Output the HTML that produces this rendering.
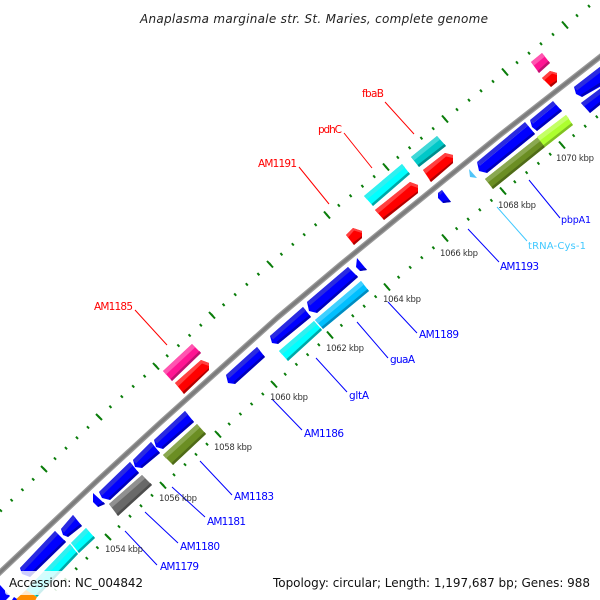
<!DOCTYPE html>
<html><head><meta charset="utf-8"><style>
html,body{margin:0;padding:0;background:#fff}
svg{display:block}
text{font-family:"DejaVu Sans",sans-serif}
.k{font-size:8.5px;fill:#333}
.r{font-size:10.5px;fill:#f00}
.b{font-size:10.5px;fill:#00f}
.rl{stroke:#f00;stroke-width:1;fill:none}
.bl{stroke:#00f;stroke-width:1;fill:none}
.m{stroke:#0a7d0a;stroke-width:3;stroke-dasharray:.13 .87;stroke-dashoffset:.065;fill:none}
.M{stroke:#0a7d0a;stroke-width:2;fill:none}
</style></head><body>
<svg width="600" height="600" viewBox="0 0 600 600" xmlns="http://www.w3.org/2000/svg">
<rect width="600" height="600" fill="#fff"/>

<!-- backbone -->
<path d="M-5 577L98 480L160 423L277 318L340 265L400 216L500 135L605 53" fill="none" stroke="#999" stroke-width="5.500" stroke-linejoin="round"/>
<path d="M-5 577L98 480L160 423L277 318L340 265L400 216L500 135L605 53" fill="none" stroke="#7c7c7c" stroke-width="3" stroke-linejoin="round"/>

<!-- upper ticks -->
<g>
<line class="m" pathLength="5" x1="-10" y1="521" x2="44" y2="469"/>
<line class="m" pathLength="5" x1="44" y1="469" x2="99" y2="417"/>
<line class="m" pathLength="5" x1="99" y1="417" x2="156" y2="366"/>
<line class="m" pathLength="5" x1="156" y1="366" x2="212" y2="315"/>
<line class="m" pathLength="5" x1="212" y1="315" x2="270" y2="264"/>
<line class="m" pathLength="5" x1="270" y1="264" x2="327" y2="215"/>
<line class="m" pathLength="5" x1="327" y1="215" x2="386" y2="167"/>
<line class="m" pathLength="5" x1="386" y1="167" x2="445" y2="119"/>
<line class="m" pathLength="5" x1="445" y1="119" x2="505" y2="72"/>
<line class="m" pathLength="5" x1="505" y1="72" x2="565" y2="25"/>
<line class="m" pathLength="5" x1="565" y1="25" x2="625" y2="-22"/>
<path class="M" d="M41 466L47 472M96 414L102 420M153 363L159 369.500M209 312L215 318.500M267 261L273 267.500M324 211.500L330 218.500M383 163.500L389 170.500M442 115.500L448 122.500M502 68.500L508 75.500M562 21.500L568 28.500"/>
</g>
<!-- lower ticks -->
<g>
<line class="m" pathLength="5" x1="55" y1="590" x2="108" y2="537"/>
<line class="m" pathLength="5" x1="108" y1="537" x2="163" y2="485"/>
<line class="m" pathLength="5" x1="163" y1="485" x2="218" y2="434"/>
<line class="m" pathLength="5" x1="218" y1="434" x2="274" y2="384"/>
<line class="m" pathLength="5" x1="274" y1="384" x2="330" y2="335"/>
<line class="m" pathLength="5" x1="330" y1="335" x2="387" y2="287"/>
<line class="m" pathLength="5" x1="387" y1="287" x2="445" y2="238"/>
<line class="m" pathLength="5" x1="445" y1="238" x2="503" y2="191"/>
<line class="m" pathLength="5" x1="503" y1="191" x2="562" y2="145"/>
<line class="m" pathLength="5" x1="562" y1="145" x2="620" y2="98"/>
<path class="M" d="M105 534L111 540M160 482L166 488.500M215 431L221 437.500M271 381L277 387.500M327 331.500L333 338.500M384 283.500L390 290.500M442 234.500L448 241.500M500 187.500L506 194.500M559 141.500L565 148.500"/>
</g>

<!-- genes -->
<polygon points="531,62 542,53 550,63 539,73" fill="#ff1493"/>
<polygon points="531,62 542,53 545,56.500 534,65.500" fill="#ff55b0"/>
<polygon points="539,73 550,63 548.500,61 537.500,71" fill="#c01070"/>

<polygon points="542,78 550,71 557,73 557,82 551,87" fill="#f00"/>
<polygon points="542,78 550,71 557,73 557,75 552,73.500 544,80.500" fill="#ff4040"/>
<polygon points="551,87 557,82 557,80 549.500,85" fill="#b00000"/>

<polygon points="574,87 605,63 612,80 582,97 576,94" fill="#00f"/>
<polygon points="574,87 605,63 608,66.500 577,90.500" fill="#2a2ae0"/>
<polygon points="582,97 612,78 610.500,76 580.500,95" fill="#0000b8"/>
<polygon points="581,103 605,85 612,95 590,113" fill="#00f"/>
<polygon points="581,103 605,85 608,88.500 584,106.500" fill="#2a2ae0"/>
<polygon points="590,113 612,95 610.500,93 588.500,111" fill="#0000b8"/>

<polygon points="477,162 525,122 528,125.500 480,165.500" fill="#2a2ae0"/>
<polygon points="480,165.500 528,125.500 535,134 487,173 479,171 477,162" fill="#00f"/>
<polygon points="487,173 535,134 533.500,132 485.500,171" fill="#0000b8"/>
<polygon points="530,120 553,101 556,104.500 533,123.500" fill="#2a2ae0"/>
<polygon points="533,123.500 556,104.500 562,111 537,131 532,127 530,120" fill="#00f"/>
<polygon points="537,131 562,111 560.500,109 535.500,129" fill="#0000b8"/>

<polygon points="485,179 538,137 545,147 493,189" fill="#6b8e23"/>
<polygon points="485,179 538,137 541,140.500 488,182.500" fill="#8aa850"/>
<polygon points="493,189 545,147 543.500,145 491.500,187" fill="#4f6b18"/>
<polygon points="537,137 566,115 573,125 545,147" fill="#adff2f"/>
<polygon points="537,137 566,115 569,118.500 540,140.500" fill="#c4ff66"/>
<polygon points="545,147 573,125 571.500,123 543.500,145" fill="#80c022"/>

<polygon points="469,169 477,178 470,177" fill="#50c4f8"/>

<polygon points="442,190 451,202 443,203 438,198 438,193" fill="#00f"/>
<polygon points="438,193 442,190 443,192 440,195" fill="#2a2ae0"/>
<polygon points="443,203 451,202 449.500,200 443,201" fill="#0000b8"/>

<polygon points="411,157 437,136 446,146 419,167" fill="#00c8c8"/>
<polygon points="411,157 437,136 440,139.500 414,160.500" fill="#40d8d8"/>
<polygon points="419,167 446,146 444.500,144 417.500,165" fill="#008c8c"/>

<polygon points="423,170 445,153 453,155 453,163 431,182" fill="#f00"/>
<polygon points="423,170 445,153 453,155 453,158 446,156.500 426,173.500" fill="#ff4040"/>
<polygon points="431,182 453,163 453,161 429.500,180" fill="#b00000"/>

<polygon points="364,196 402,164 410,174 373,206" fill="#0ff"/>
<polygon points="364,196 402,164 405,167.500 367,199.500" fill="#30f0f0"/>
<polygon points="373,206 410,174 408.500,172 371.500,204" fill="#00a8a8"/>

<polygon points="375,210 410,182 418,185 418,193 384,220" fill="#f00"/>
<polygon points="375,210 410,182 418,185 418,188 411,185.500 378,213.500" fill="#ff4040"/>
<polygon points="384,220 418,193 418,191 382.500,218" fill="#b00000"/>

<polygon points="346,235 353,228 362,231 362,238 354,245" fill="#f00"/>
<polygon points="346,235 353,228 362,231 362,233 354,230.500 348,237.500" fill="#ff4040"/>
<polygon points="354,245 362,238 362,236 352.500,243" fill="#b00000"/>

<polygon points="357,258 367,270 360,271 356,267" fill="#00f"/>
<polygon points="360,271 367,270 365.500,268 360,269" fill="#0000b8"/>

<polygon points="307,302 348,267 358,277 317,313 309,311" fill="#00f"/>
<polygon points="307,302 348,267 351,270.500 310,305.500" fill="#2a2ae0"/>
<polygon points="317,313 358,277 356.500,275 315.500,311" fill="#0000b8"/>
<polygon points="270,336 303,307 311,317 278,344 272,343" fill="#00f"/>
<polygon points="270,336 303,307 306,310.500 273,339.500" fill="#2a2ae0"/>
<polygon points="278,344 311,317 309.500,315 276.500,342" fill="#0000b8"/>

<polygon points="315,320 361,281 369,291 323,329" fill="#00bfff"/>
<polygon points="315,320 361,281 364,284.500 318,323.500" fill="#40d0ff"/>
<polygon points="323,329 369,291 367.500,289 321.500,327" fill="#008cc0"/>
<polygon points="279,351 314,321 322,330 288,361" fill="#0ff"/>
<polygon points="279,351 314,321 317,324.500 282,354.500" fill="#30f0f0"/>
<polygon points="288,361 322,330 320.500,328 286.500,359" fill="#00a8a8"/>

<polygon points="226,375 257,347 265,357 235,384 228,383" fill="#00f"/>
<polygon points="226,375 257,347 260,350.500 229,378.500" fill="#2a2ae0"/>
<polygon points="235,384 265,357 263.500,355 233.500,382" fill="#0000b8"/>

<polygon points="163,371 192,344 201,353 172,381" fill="#ff1493"/>
<polygon points="163,371 192,344 195,347.500 166,374.500" fill="#ff55b0"/>
<polygon points="172,381 201,353 199.500,351 170.500,379" fill="#c01070"/>

<polygon points="175,383 201,360 209,363 209,370 184,394" fill="#f00"/>
<polygon points="175,383 201,360 209,363 209,366 202,363.500 178,386.500" fill="#ff4040"/>
<polygon points="184,394 209,370 209,368 182.500,392" fill="#b00000"/>

<polygon points="154,440 185,411 194,422 163,449 156,447" fill="#00f"/>
<polygon points="154,440 185,411 188,414.500 157,443.500" fill="#2a2ae0"/>
<polygon points="163,449 194,422 192.500,420 161.500,447" fill="#0000b8"/>

<polygon points="163,455 197,424 206,434 173,465" fill="#6b8e23"/>
<polygon points="163,455 197,424 200,427.500 166,458.500" fill="#8aa850"/>
<polygon points="173,465 206,434 204.500,432 171.500,463" fill="#4f6b18"/>

<polygon points="133,460 151,442 160,453 142,468 135,467" fill="#00f"/>
<polygon points="133,460 151,442 154,445.500 136,463.500" fill="#2a2ae0"/>
<polygon points="142,468 160,453 158.500,451 140.500,466" fill="#0000b8"/>
<polygon points="99,492 130,462 139,473 110,500 102,498" fill="#00f"/>
<polygon points="99,492 130,462 133,465.500 102,495.500" fill="#2a2ae0"/>
<polygon points="110,500 139,473 137.500,471 108.500,498" fill="#0000b8"/>

<polygon points="109,504 142,475 152,485 118,516" fill="#696969"/>
<polygon points="109,504 142,475 145,478.500 112,507.500" fill="#909090"/>
<polygon points="118,516 152,485 150.500,483 116.500,514" fill="#4d4d4d"/>

<polygon points="93,493 105,504 98,507 93,502" fill="#00f"/>
<polygon points="98,507 105,504 103.500,502 98,505" fill="#0000b8"/>

<polygon points="61,529 73,515 82,526 68,537 63,535" fill="#00f"/>
<polygon points="61,529 73,515 76,518.500 64,532.500" fill="#2a2ae0"/>
<polygon points="68,537 82,526 80.500,524 66.500,535" fill="#0000b8"/>
<polygon points="20,568 55,531 66,542 30,577 22,574" fill="#00f"/>
<polygon points="20,568 55,531 58,534.500 23,571.500" fill="#2a2ae0"/>
<polygon points="30,577 66,542 64.500,540 28.500,575" fill="#0000b8"/>

<polygon points="71,543 86,528 95,538 79,553" fill="#0ff"/>
<polygon points="71,543 86,528 89,531.500 74,546.500" fill="#30f0f0"/>
<polygon points="79,553 95,538 93.500,536 77.500,551" fill="#00a8a8"/>
<polygon points="26,590 70,544 78,554 37,597" fill="#0ff"/>
<polygon points="26,590 70,544 73,547.500 29,593.500" fill="#30f0f0"/>
<polygon points="37,597 78,554 76.500,552 35.500,595" fill="#00a8a8"/>

<polygon points="12,603 26,590 37,597 34,603" fill="#ff8c00"/>
<polygon points="-5,582 0,585 10,596 3,603 -5,603" fill="#00f"/>
<polygon points="10,603 14,597 17,599 15,603" fill="#00f"/>

<!-- connectors -->
<path class="rl" d="M385 102L414 134M344 133L372 168M299 167L329 204M135 310L167 345"/>
<path class="bl" d="M529 180L560 218M468 229L499 262M388 302L417 333M357 322L388 358M316 358L347 392M272 399L302 430M200 461L232 495M172 487L205 517M145 512L178 543M125 531L157 565"/>
<line x1="497" y1="207" x2="527" y2="241" stroke="#40c8ff"/>

<!-- kbp labels -->
<text class="k" x="556" y="161" textLength="38">1070 kbp</text>
<text class="k" x="498" y="208" textLength="38">1068 kbp</text>
<text class="k" x="440" y="256" textLength="38">1066 kbp</text>
<text class="k" x="383" y="302" textLength="38">1064 kbp</text>
<text class="k" x="326" y="351" textLength="38">1062 kbp</text>
<text class="k" x="270" y="400" textLength="38">1060 kbp</text>
<text class="k" x="214" y="450" textLength="38">1058 kbp</text>
<text class="k" x="159" y="501" textLength="38">1056 kbp</text>
<text class="k" x="105" y="552" textLength="38">1054 kbp</text>

<!-- gene labels -->
<text class="r" x="362" y="97" textLength="22">fbaB</text>
<text class="r" x="318" y="133" textLength="24">pdhC</text>
<text class="r" x="258" y="167" textLength="39">AM1191</text>
<text class="r" x="94" y="310" textLength="39">AM1185</text>
<text x="561" y="223" font-size="9.500" fill="#00f" textLength="30">pbpA1</text>
<text x="528" y="249" font-size="10" fill="#40c8ff" textLength="58">tRNA-Cys-1</text>
<text class="b" x="500" y="270" textLength="39">AM1193</text>
<text class="b" x="419" y="338" textLength="40">AM1189</text>
<text class="b" x="390" y="363" textLength="25">guaA</text>
<text class="b" x="349" y="399" textLength="20">gltA</text>
<text class="b" x="304" y="437" textLength="40">AM1186</text>
<text class="b" x="234" y="500" textLength="40">AM1183</text>
<text class="b" x="207" y="525" textLength="39">AM1181</text>
<text class="b" x="180" y="550" textLength="40">AM1180</text>
<text class="b" x="160" y="570" textLength="39">AM1179</text>

<!-- title & legends -->
<text x="140" y="23" font-size="12" font-style="italic" fill="#222" textLength="348">Anaplasma marginale str. St. Maries, complete genome</text>
<rect x="5" y="571" width="142" height="24" rx="3" fill="#fff" fill-opacity=".8"/>
<rect x="268" y="571" width="332" height="24" rx="3" fill="#fff" fill-opacity=".8"/>
<text x="9" y="587" font-size="12" fill="#111" textLength="134">Accession: NC_004842</text>
<text x="273" y="587" font-size="12" fill="#111" textLength="317">Topology: circular; Length: 1,197,687 bp; Genes: 988</text>
</svg>
</body></html>
